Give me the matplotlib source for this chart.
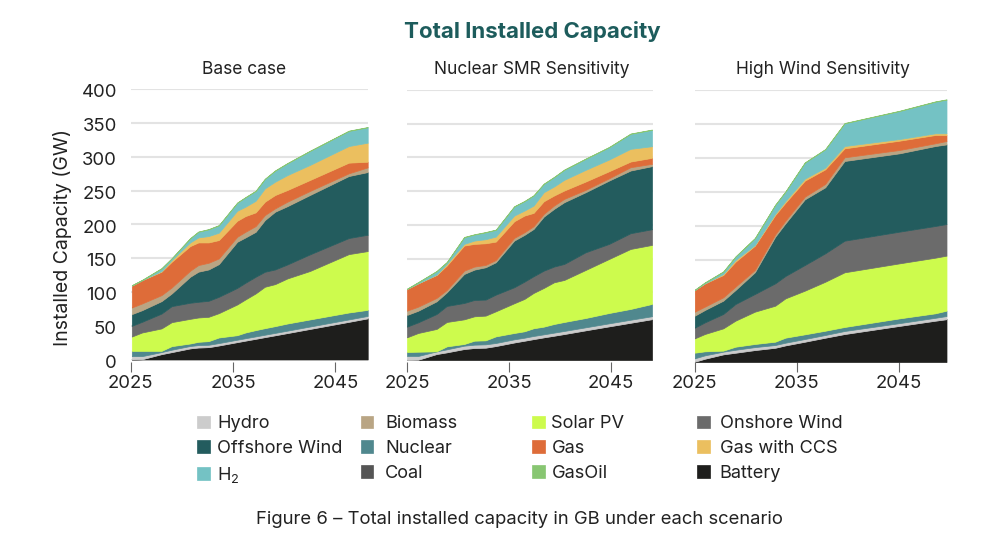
import numpy as np
import matplotlib
matplotlib.use("Agg")
import matplotlib.pyplot as plt
from matplotlib.transforms import ScaledTranslation

plt.rcParams['font.family'] = ['Inter', 'DejaVu Sans']
plt.rcParams['mathtext.default'] = 'regular'

labels = ['Battery', 'Coal', 'Hydro', 'Nuclear', 'Solar PV', 'Onshore Wind',
          'Offshore Wind', 'Biomass', 'Gas', 'Gas with CCS', 'H$_2$', 'GasOil']
colors = ['#1e1e1c', '#555555', '#cccccc', '#50888e', '#cdfb4d', '#6b6b6b',
          '#235c5e', '#b9a584', '#de6c39', '#ebbf5f', '#74c2c4', '#88c672']
panel_titles = ['Base case', 'Nuclear SMR Sensitivity', 'High Wind Sensitivity']
y_ticks = [0, 50, 100, 150, 200, 250, 300, 350, 400]
x_ticks = [2025, 2035, 2045]

# Cumulative stack tops (GW)
base_years = [2025.1, 2026.1, 2028, 2029, 2030.8, 2031.6, 2032.6, 2033.6, 2035.4, 2036.2, 2037.2, 2038.1, 2039.1, 2040.3, 2042.5, 2046.3, 2048.15]
base_battery = [0, 0.5, 8, 11, 16.5, 17.8, 18.3, 20.8, 25.8, 28, 30.7, 33.2, 35.9, 39.2, 45.3, 55.8, 61]
base_hydro = [5, 5, 11, 14.5, 20, 21.3, 21.8, 24.3, 29.3, 31.5, 34.2, 36.7, 39.4, 42.7, 48.8, 59.3, 64.5]
base_nuclear = [12.8, 12.8, 12.8, 19.8, 23.7, 26.2, 27.2, 32.6, 36, 40, 43.5, 46.4, 49.4, 53.3, 59.3, 69.6, 73.5]
base_solar = [34, 40, 46, 55.3, 60.2, 62.2, 63.2, 68.6, 81.5, 88.9, 97.8, 107.7, 111.6, 120, 131, 156, 160.5]
base_onshore = [49.9, 55.8, 68, 79, 84, 85.4, 86.9, 92.8, 106, 113.6, 122.5, 129.9, 133.3, 140.7, 155.6, 179.8, 184.7]
base_offshore = [67.2, 73, 86.4, 97.8, 122.5, 130, 133.3, 141.2, 174.3, 180.7, 189, 206.4, 218.8, 227, 243.5, 271.6, 277.5]
base_biomass = [77, 83, 95.3, 106.7, 131.4, 139.8, 143.2, 149.6, 181.7, 189, 197.5, 213.8, 223.7, 233.6, 249.4, 275.6, 284.4]
base_gas = [109.6, 117.5, 130, 144.7, 167.9, 173.3, 173.3, 176.8, 205.4, 212.3, 217.8, 233.6, 243.5, 250.9, 265.7, 291.4, 292.8]
base_ccs = [109.6, 117.5, 130.9, 147.2, 173.3, 180.7, 182.7, 187.7, 220.2, 226.2, 235, 253.3, 263.2, 273, 288, 316, 321]
base_h2 = [109.6, 117.5, 134.8, 149.6, 179.3, 189, 192.6, 198.5, 232, 240, 249.4, 267.2, 279.5, 290.4, 308.6, 338.3, 343.7]

smr_years = [2025, 2026.1, 2027.9, 2028.9, 2030.6, 2031.6, 2032.7, 2033.7, 2035.5, 2036.5, 2037.4, 2038.4, 2039.4, 2040.4, 2042.5, 2044.8, 2046.9, 2049]
smr_battery = [0, 0.5, 8.9, 11.4, 16.3, 17.8, 18.3, 20.7, 26, 28.6, 31, 33.6, 36, 38.5, 44, 49.9, 55.2, 60.5]
smr_hydro = [6, 6, 12.8, 15.8, 21.2, 22.7, 23.2, 25.2, 30.6, 33, 35.6, 38, 40.5, 43, 48.4, 54.3, 59.6, 64.8]
smr_nuclear = [11.9, 12.3, 12.8, 20.2, 23.7, 28.6, 29.1, 35, 40, 42.5, 47, 49.4, 53.3, 56.3, 62.2, 69.6, 75.6, 83]
smr_solar = [33.6, 40, 46, 56.3, 60.2, 64.7, 65.7, 72.1, 84, 90.4, 99.3, 106.7, 115, 118.5, 133.3, 149.6, 164.4, 170.4]
smr_onshore = [49.4, 55.8, 68.1, 80, 84.4, 88.9, 89.4, 96.8, 107.7, 116, 124, 132.3, 138.3, 142.2, 159.5, 171.9, 187.7, 193.6]
smr_offshore = [66.7, 73, 86.9, 100.2, 127.4, 133.8, 137.3, 144.7, 176.8, 185.2, 194, 212.3, 223.7, 233.6, 248.4, 265.7, 280.5, 287]
smr_biomass = [73, 79, 91.9, 103.7, 132.3, 138.3, 140.7, 148, 180.7, 189, 198, 216.3, 228.6, 238.5, 251.9, 269, 285.4, 290.4]
smr_gas = [105.2, 113.6, 125.9, 139.8, 169.4, 171.9, 172.8, 175.3, 205.4, 213.8, 217.8, 235, 243.5, 250.9, 264.2, 279.5, 293.8, 299.3]
smr_ccs = [105.2, 113.6, 126.4, 142.2, 171.9, 176.8, 178.8, 182.7, 213.8, 221.2, 228.6, 248.4, 256.8, 266.7, 281.5, 296.8, 312.6, 316.5]
smr_h2 = [105.2, 115, 131.4, 144.7, 181.7, 185.7, 189, 192.6, 227.2, 235, 243.5, 260.7, 270.6, 281.5, 297.8, 315, 334.8, 340.7]

wind_years = [2025, 2026, 2027.8, 2029, 2030.9, 2032.9, 2033.9, 2035.8, 2037.8, 2039.7, 2045.1, 2048.6, 2049.7]
wind_battery = [0.5, 4.9, 11.3, 13.7, 17.6, 21, 24.5, 29.9, 35.8, 41.2, 53.2, 60.8, 63]
wind_hydro = [5.4, 9.8, 15.2, 18, 21.9, 25, 28.4, 33.8, 39.7, 45.6, 57.2, 65, 67.6]
wind_nuclear = [13.7, 15.7, 16.7, 22.5, 26.5, 29.9, 35.8, 40.7, 46, 51.5, 64.2, 71.6, 75.5]
wind_solar = [34.8, 41.2, 49.5, 60.8, 74, 82.8, 93.6, 104.9, 118, 131.9, 145.1, 153.4, 156.4]
wind_onshore = [50.5, 58.3, 70.6, 85.3, 100, 115.7, 126.5, 142.6, 159.8, 178.4, 191.7, 200, 202.9]
wind_offshore = [68.1, 76.5, 90.2, 105.9, 131.9, 184.3, 203.9, 239.2, 256.9, 295.6, 306.9, 317.6, 320]
wind_biomass = [74, 81.4, 95.1, 110.8, 135.3, 187.7, 207.8, 243.1, 261.8, 301, 311.8, 321.6, 325]
wind_gas = [105.9, 115.7, 127.9, 147.5, 171, 216.2, 234.3, 266.7, 283.3, 314.2, 325.5, 333.8, 333.8]
wind_ccs = [105.9, 115.7, 129.4, 150, 172, 218.1, 236.8, 269.6, 285.8, 317.6, 327.9, 336.3, 336.3]
wind_h2 = [105.9, 116.7, 132.8, 154.9, 181.9, 231, 250.5, 293.1, 312.7, 351, 369.1, 382.8, 385.8]


def layers(battery, hydro, nuclear, solar, onshore, offshore, biomass, gas, ccs, h2):
    tops = np.array([battery, battery, hydro, nuclear, solar, onshore, offshore,
                     biomass, gas, ccs, h2, h2], dtype=float)
    vals = np.vstack([tops[0], np.clip(np.diff(tops, axis=0), 0, None)])
    vals[-1] = 0.5  # GasOil hairline on top
    return vals


panels = [
    (base_years, layers(base_battery, base_hydro, base_nuclear, base_solar, base_onshore, base_offshore, base_biomass, base_gas, base_ccs, base_h2)),
    (smr_years, layers(smr_battery, smr_hydro, smr_nuclear, smr_solar, smr_onshore, smr_offshore, smr_biomass, smr_gas, smr_ccs, smr_h2)),
    (wind_years, layers(wind_battery, wind_hydro, wind_nuclear, wind_solar, wind_onshore, wind_offshore, wind_biomass, wind_gas, wind_ccs, wind_h2)),
]

W, H = 1000, 548
fig = plt.figure(figsize=(W / 100, H / 100), dpi=100, facecolor='white')


def fx(p):
    return p / W


def fy(p):
    return 1 - p / H


boxes = [(130.8, 367.7, 2048.15, 89.3, 359.5, 1.6),
         (407, 652.5, 2049.05, 89.8, 360, 1.3),
         (694.7, 946.5, 2049.7, 90, 362, 0)]
title_cx = [244, 532, 823]
TXT = '#222222'
handles = {}
for i, ((yrs, vals), (l, r, xend, t, b, off)) in enumerate(zip(panels, boxes)):
    ax = fig.add_axes([fx(l), fy(b), fx(r - l), (b - t) / H])
    polys = ax.stackplot(yrs, vals, colors=colors, labels=labels, linewidth=0.5, zorder=3)
    for p, c in zip(polys, colors):
        p.set_edgecolor(c)
    handles = dict(zip(labels, polys))
    ax.set_xlim(2025, xend)
    ax.set_ylim(0, 400)
    ax.set_yticks(y_ticks)
    ax.set_xticks(x_ticks)
    ax.grid(axis='y', color='#e3e3e3', lw=1.5, zorder=0)
    ax.set_axisbelow(True)
    ax.spines['bottom'].set_position(('outward', off))
    for s in ax.spines.values():
        s.set_visible(False)
    ax.tick_params(axis='x', length=7.2, width=0.8, color='#666666', labelsize=13.3, labelcolor=TXT, pad=2.5, direction='out')
    ax.tick_params(axis='y', length=0, labelsize=13.3, labelcolor=TXT, pad=10, labelleft=(i == 0))
    if i == 0:
        shift = ScaledTranslation(0, -1.2 / 72, fig.dpi_scale_trans)
        for lab in ax.get_yticklabels():
            lab.set_transform(lab.get_transform() + shift)
    fig.text(fx(title_cx[i]), fy(69), panel_titles[i], fontsize=12.5, color=TXT, ha='center', va='center')

fig.text(fx(62), fy(237), 'Installed Capacity (GW)', rotation=90, fontsize=14, color=TXT, ha='center', va='center')
fig.text(fx(532), fy(31), 'Total Installed Capacity', ha='center', va='center',
         fontsize=16, fontweight='bold', color='#1d5c5c')
fig.text(fx(520), fy(520), 'Figure 6 \u2013 Total installed capacity in GB under each scenario',
         ha='center', va='center', fontsize=13.3, color=TXT)

columns = [(['Hydro', 'Offshore Wind', 'H$_2$'], 197.3, 0.41),
           (['Biomass', 'Nuclear', 'Coal'], 360.7, 0.66),
           (['Solar PV', 'Gas', 'GasOil'], 532.3, 0.36),
           (['Onshore Wind', 'Gas with CCS', 'Battery'], 697.3, 0.55)]
for names, px, pad in columns:
    fig.legend([handles[n] for n in names], names, loc='upper left',
               bbox_to_anchor=(fx(px), fy(415.5)), frameon=False, fontsize=13.1,
               borderpad=0, borderaxespad=0, labelspacing=0.42,
               handlelength=0.69, handleheight=0.69, handletextpad=pad,
               labelcolor=TXT)

fig.savefig('out.png', dpi=100, facecolor='white')
